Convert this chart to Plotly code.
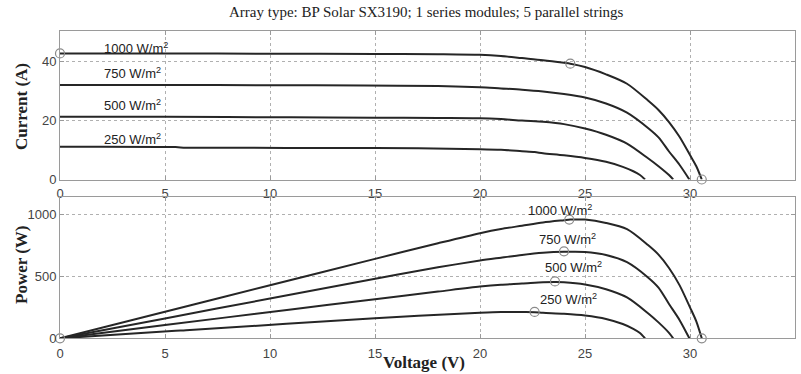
import plotly.graph_objects as go

W, H = 801, 374

title_text = "Array type: BP Solar SX3190; 1 series modules; 5 parallel strings"
irr_labels = ["1000 W/m<sup>2</sup>", "750 W/m<sup>2</sup>", "500 W/m<sup>2</sup>", "250 W/m<sup>2</sup>"]

# I-V curves (voltage V, current A)
v1000 = [0, 5, 10, 15, 18, 20, 21, 22, 23, 24, 24.3, 25, 26, 27, 28, 28.5, 29, 29.5, 30, 30.3, 30.56]
i1000 = [42.8, 42.8, 42.7, 42.6, 42.5, 42.3, 41.9, 41.2, 40.5, 39.6, 39.3, 38.2, 35.7, 32.5, 26.8, 23.6, 19.5, 14.5, 8.3, 4.5, 0]
v750 = [0, 5, 10, 14.5, 18, 20, 21, 22, 23, 24, 25, 26, 27, 28, 28.5, 29, 29.5, 29.97]
i750 = [32.1, 32.1, 32.0, 31.9, 31.7, 31.3, 30.9, 30.5, 29.9, 29.0, 27.8, 25.8, 22.7, 17.5, 14.3, 9.5, 5.0, 0]
v500 = [0, 5, 11, 15, 18, 20, 21, 22, 23, 23.6, 24, 25, 26, 27, 28, 28.5, 29, 29.2]
i500 = [21.3, 21.3, 21.1, 21.0, 20.9, 20.8, 20.5, 20.0, 19.6, 19.2, 18.8, 17.3, 15.2, 12.2, 7.2, 4.5, 1.5, 0]
v250 = [0, 5.5, 6, 15, 20, 21, 22, 22.6, 23, 24, 25, 26, 26.8, 27.3, 27.6, 27.86]
i250 = [11.1, 11.0, 10.8, 10.7, 10.3, 10.1, 9.6, 9.3, 8.9, 8.2, 7.3, 6.0, 4.3, 2.8, 1.6, 0]

# P-V curves (power W), read at the same voltages
p1000 = [0, 214, 427, 639, 765, 846, 880, 906, 932, 950, 955, 955, 928, 878, 750, 673, 566, 428, 249, 136, 0]
p750 = [0, 160, 320, 463, 571, 626, 649, 671, 688, 696, 695, 671, 613, 490, 408, 276, 148, 0]
p500 = [0, 107, 232, 315, 376, 416, 431, 440, 451, 453, 451, 433, 395, 329, 202, 128, 44, 0]
p250 = [0, 61, 65, 161, 206, 212, 211, 210, 205, 197, 183, 156, 115, 76, 44, 0]

# marked points
iv_mark_v = [0, 24.3, 30.56]
iv_mark_i = [42.8, 39.3, 0]
pv_mark_v = [0, 24.25, 24.0, 23.57, 22.6, 30.56]
pv_mark_p = [0, 955, 700, 458, 212, 0]

# label positions (data coords)
iv_lab_x = [2.0, 2.0, 2.0, 2.0]
iv_lab_y = [44.6, 36.2, 25.4, 13.8]
pv_lab_x = [22.2, 22.7, 23.0, 22.76]
pv_lab_y = [1030, 800, 575, 318]

line_col = "#262626"
mark_col = "#8a8a8a"

fig = go.Figure()
for v, i in [(v1000, i1000), (v750, i750), (v500, i500), (v250, i250)]:
    fig.add_trace(go.Scatter(x=v, y=i, mode="lines",
                             line=dict(color=line_col, width=2, shape="spline", smoothing=0.8),
                             xaxis="x", yaxis="y", showlegend=False))
for v, p in [(v1000, p1000), (v750, p750), (v500, p500), (v250, p250)]:
    fig.add_trace(go.Scatter(x=v, y=p, mode="lines",
                             line=dict(color=line_col, width=2, shape="spline", smoothing=0.8),
                             xaxis="x2", yaxis="y2", showlegend=False))
fig.add_trace(go.Scatter(x=iv_mark_v, y=iv_mark_i, mode="markers", xaxis="x", yaxis="y",
                         marker=dict(symbol="circle-open", size=9, color=mark_col, line=dict(width=1.2)),
                         showlegend=False, cliponaxis=False))
fig.add_trace(go.Scatter(x=pv_mark_v, y=pv_mark_p, mode="markers", xaxis="x2", yaxis="y2",
                         marker=dict(symbol="circle-open", size=9, color=mark_col, line=dict(width=1.2)),
                         showlegend=False, cliponaxis=False))

tickfont = dict(family="Liberation Sans, Arial, sans-serif", size=13, color="#444")
ax_common = dict(showline=True, linecolor="#9a9a9a", linewidth=1, mirror="ticks",
                 ticks="inside", ticklen=4, tickcolor="#9a9a9a",
                 showgrid=True, gridcolor="#b0b0b0", griddash="dot", gridwidth=1,
                 zeroline=False, tickfont=tickfont, fixedrange=True)

x0, x1 = 60 / W, 795 / W
fig.update_layout(
    width=W, height=H, margin=dict(l=0, r=0, t=0, b=0, autoexpand=False),
    paper_bgcolor="white", plot_bgcolor="white", showlegend=False,
    xaxis=dict(domain=[x0, x1], range=[0, 35], tickvals=[0, 5, 10, 15, 20, 25, 30, 35],
               anchor="y", ticklabelstandoff=2, **ax_common),
    yaxis=dict(domain=[(H - 179.5) / H, (H - 31) / H], range=[0, 50.4], tickvals=[0, 20, 40],
               anchor="x", **ax_common),
    xaxis2=dict(domain=[x0, x1], range=[0, 35], tickvals=[0, 5, 10, 15, 20, 25, 30, 35],
                anchor="y2", ticklabelstandoff=3, **ax_common),
    yaxis2=dict(domain=[(H - 338.3) / H, (H - 197) / H], range=[0, 1137], tickvals=[0, 500, 1000],
                anchor="x2", **ax_common),
)

ann = []
for t, x, y in zip(irr_labels, iv_lab_x, iv_lab_y):
    ann.append(dict(text=t, x=x, y=y, xref="x", yref="y", xanchor="left", yanchor="middle",
                    showarrow=False, font=dict(family="Liberation Sans, Arial", size=13, color="#222")))
for t, x, y in zip(irr_labels, pv_lab_x, pv_lab_y):
    ann.append(dict(text=t, x=x, y=y, xref="x2", yref="y2", xanchor="left", yanchor="middle",
                    showarrow=False, font=dict(family="Liberation Sans, Arial", size=13, color="#222")))
serif = "Liberation Serif, Times New Roman, serif"
ann.append(dict(text=title_text, x=426 / W, y=1 - 12 / H, xref="paper", yref="paper",
                xanchor="center", yanchor="middle", showarrow=False,
                font=dict(family=serif, size=15, color="#222")))
ann.append(dict(text="<b>Current (A)</b>", x=21 / W, y=1 - 107 / H, xref="paper", yref="paper",
                xanchor="center", yanchor="middle", textangle=-90, showarrow=False,
                font=dict(family=serif, size=17, color="#222")))
ann.append(dict(text="<b>Power (W)</b>", x=21 / W, y=1 - 265 / H, xref="paper", yref="paper",
                xanchor="center", yanchor="middle", textangle=-90, showarrow=False,
                font=dict(family=serif, size=17, color="#222")))
ann.append(dict(text="<b>Voltage (V)</b>", x=424 / W, y=1 - 362 / H, xref="paper", yref="paper",
                xanchor="center", yanchor="middle", showarrow=False,
                font=dict(family=serif, size=17, color="#222")))
fig.update_layout(annotations=ann)

fig.write_html("out.html")
